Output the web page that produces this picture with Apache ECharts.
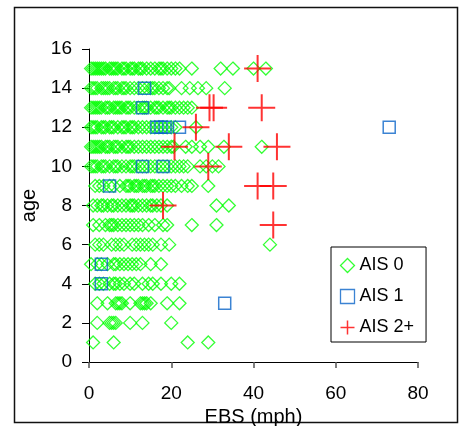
<!DOCTYPE html>
<html><head><meta charset="utf-8">
<script src="https://cdn.jsdelivr.net/npm/echarts@6/dist/echarts.min.js"></script>
<style>html,body{margin:0;padding:0;background:#fff}#c{width:460px;height:426px}</style>
</head><body><div id="c"></div>
<script>
// AIS 0: EBS (mph) values per age row
const age1  = [1, 6, 24, 29];
const age2  = [2, 5, 5.5, 6, 6.5, 10, 13, 20];
const age3  = [2, 4.5, 6.5, 7, 7.5, 8, 10, 12.5, 13, 13.5, 14, 15, 19, 22];
const age4  = [1.5, 2.5, 3.5, 5, 6, 6.5, 7.5, 8.5, 10, 11, 13, 14.5, 15.5, 17.5, 20, 22];
const age5  = [0.5, 2, 3, 4.5, 6, 6.5, 7.5, 8.5, 9.5, 10.5, 11.5, 12.5, 15, 17.5];
const age6  = [1.5, 2.5, 3.5, 5.5, 6.5, 7.5, 8.5, 10.5, 11.5, 12.5, 13.5, 14.5, 15.5, 17.5, 19.5, 44];
const age7  = [1, 2.5, 4, 5, 5.5, 6, 7, 8, 9, 10, 11, 12, 13, 14.5, 16, 18, 19, 25, 31];
const age8  = [1, 2, 3, 3.5, 4.5, 5.5, 6, 7, 8, 9, 10, 10.5, 11, 12, 13, 14, 15, 15.5, 16.5, 17.5, 19, 31, 34];
const age9  = [1.5, 2.5, 3.5, 5, 6, 7.5, 9, 9.5, 10, 11, 11.5, 12, 13, 13.5, 14, 15, 15.5, 16, 17, 18, 19, 20, 21, 22.5, 24, 25, 29];
const age10 = [0.5, 1, 1.5, 2, 3, 3.5, 4, 5, 6, 6.5, 7, 8, 9, 10, 10.5, 11, 12, 13, 14, 15, 16, 17, 18, 19, 20, 21, 22, 23, 24, 27, 28.5, 30, 31.5];
const age11 = [0.5, 1, 1.5, 2, 2.5, 3, 4, 4.5, 5, 6, 6.5, 7, 8, 9, 9.5, 10, 11, 12, 13, 14, 15, 16, 17, 18, 19, 20, 20.5, 23.5, 25, 27, 29, 32.8, 42];
const age12 = [0.5, 1, 1.5, 2, 3, 3.5, 4, 5, 5.5, 6, 7, 8, 8.5, 9, 10, 10.5, 11, 12, 13, 14, 15, 16, 17, 18, 19, 20, 21, 26];
const age13 = [0.5, 1, 1.5, 2, 2.5, 3, 4, 4.5, 5, 6, 6.5, 7, 7.5, 8, 9, 9.5, 10, 11, 12, 13, 13.5, 14, 15, 16, 16.5, 17, 18, 19, 19.5, 20, 21, 22, 23, 24, 25];
const age14 = [0.5, 1, 1.5, 2, 3, 3.5, 4, 4.5, 5, 6, 6.5, 7, 8, 8.5, 9, 10, 11, 12, 13, 14, 15, 15.5, 16, 17, 18, 19, 19.5, 22.5, 24.5, 26.5, 28.5, 33];
const age15 = [0.5, 1, 1.5, 2, 2.5, 3, 3.5, 4, 5, 5.5, 6, 6.5, 7, 8, 8.5, 9, 10, 10.5, 11, 12, 12.5, 13, 14, 15, 16, 17, 17.5, 18, 19, 20, 21, 22, 25, 32, 35, 40, 43];

// AIS 1: [EBS, age]
const ais1 = [[13.5, 14], [13, 13], [16.5, 12], [17.5, 12], [18.5, 12], [22, 12], [73, 12], [13, 10], [18, 10], [5, 9], [3, 5], [3, 4], [33, 3]];
// AIS 2+: [EBS, age]
const ais2 = [[41, 15], [29.3, 13], [30.3, 13], [42, 13], [26, 12], [20.8, 11], [34, 11], [45.7, 11], [29, 10], [41, 9], [44.8, 9], [18, 8], [44.8, 7]];

const xTicks = [0, 20, 40, 60, 80];
const yTicks = [0, 2, 4, 6, 8, 10, 12, 14, 16];

const ais0Rows = [age1, age2, age3, age4, age5, age6, age7, age8, age9, age10, age11, age12, age13, age14, age15];
const ais0 = [];
ais0Rows.forEach((xs, i) => xs.forEach(x => ais0.push([x, i + 1])));

const FONT = '"Liberation Sans", Arial, Helvetica, sans-serif';
const GREEN = '#00ff00', BLUE = '#0a64c8', RED = '#ff0000';
const CROSS = 'path://M0,13 L26,13 M13,0 L13,26';

const chart = echarts.init(document.getElementById('c'), null, {renderer: 'canvas'});
chart.setOption({
  animation: false,
  backgroundColor: '#fff',
  graphic: [{
    type: 'rect', shape: {x: 14.5, y: 7.5, width: 443, height: 415},
    style: {fill: 'none', stroke: '#111', lineWidth: 1.5}, z: -1
  }],
  grid: {left: 89, right: 42, top: 49, bottom: 64, containLabel: false, outerBoundsMode: 'none'},
  xAxis: {
    type: 'value', min: xTicks[0], max: xTicks[xTicks.length - 1], interval: 20,
    name: 'EBS (mph)', nameLocation: 'middle', nameGap: 29,
    nameTextStyle: {fontSize: 20, color: '#000', fontFamily: FONT},
    axisLine: {show: true, lineStyle: {color: '#000', width: 1}},
    axisTick: {show: true, inside: false, length: 6, lineStyle: {color: '#555', width: 1.5}},
    axisLabel: {margin: 22, fontSize: 19, color: '#000', fontFamily: FONT},
    splitLine: {show: false}
  },
  yAxis: {
    type: 'value', min: yTicks[0], max: yTicks[yTicks.length - 1], interval: 2,
    name: 'age', nameLocation: 'middle', nameGap: 42, nameRotate: 90,
    nameTextStyle: {fontSize: 20, color: '#000', fontFamily: FONT},
    axisLine: {show: true, lineStyle: {color: '#000', width: 1}},
    axisTick: {show: true, inside: false, length: 7, lineStyle: {color: '#000', width: 1}},
    axisLabel: {margin: 17, fontSize: 19, color: '#000', fontFamily: FONT},
    splitLine: {show: false}
  },
  legend: {
    orient: 'vertical', left: 331, top: 247,
    padding: [9, 12, 5, 7], itemGap: 12, itemWidth: 14, itemHeight: 14,
    backgroundColor: '#fff', borderColor: '#000', borderWidth: 1, borderRadius: 0,
    textStyle: {fontSize: 18, color: '#000', fontFamily: FONT},
    data: [
      {name: 'AIS 0', icon: 'diamond', itemStyle: {color: 'none', borderColor: GREEN, borderWidth: 1.3}},
      {name: 'AIS 1', icon: 'rect', itemStyle: {color: 'none', borderColor: BLUE, borderWidth: 1.3}},
      {name: 'AIS 2+', icon: CROSS, itemStyle: {color: 'none', borderColor: RED, borderWidth: 1.5}}
    ]
  },
  series: [
    {name: 'AIS 0', type: 'scatter', data: ais0, symbol: 'diamond', symbolSize: 13,
     itemStyle: {color: 'none', borderColor: GREEN, borderWidth: 1.3}},
    {name: 'AIS 1', type: 'scatter', data: ais1, symbol: 'rect', symbolSize: 12,
     itemStyle: {color: 'none', borderColor: BLUE, borderWidth: 1.5}},
    {name: 'AIS 2+', type: 'scatter', data: ais2, symbol: CROSS, symbolSize: 27,
     itemStyle: {color: 'none', borderColor: RED, borderWidth: 2}}
  ]
});
</script>
</body></html>
